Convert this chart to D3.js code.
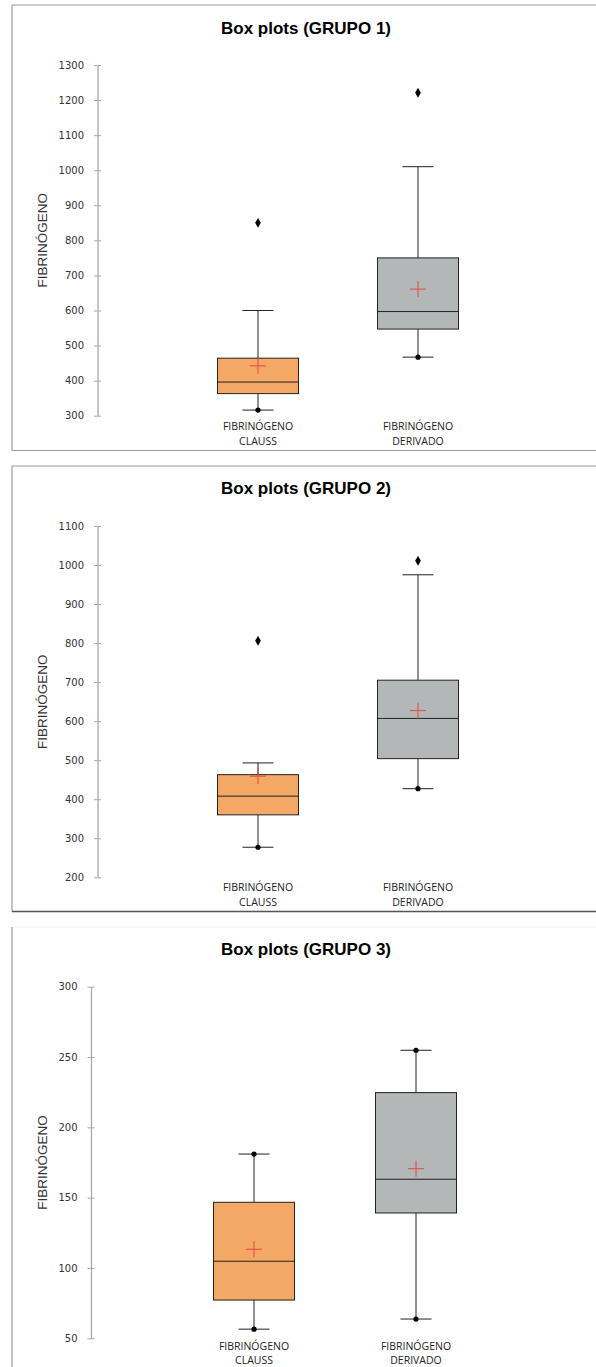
<!DOCTYPE html>
<html>
<head>
<meta charset="utf-8">
<script src="https://cdn.jsdelivr.net/npm/d3@7"></script>
<style>
  body { margin: 0; background: #fff; }
</style>
</head>
<body>
<div id="chart"></div>
<script>
// Categories and tick labels
const categories = ["FIBRINÓGENO CLAUSS", "FIBRINÓGENO DERIVADO"];
const categoryLines = [["FIBRINÓGENO", "CLAUSS"], ["FIBRINÓGENO", "DERIVADO"]];
const titles = ["Box plots (GRUPO 1)", "Box plots (GRUPO 2)", "Box plots (GRUPO 3)"];
const yLabel = "FIBRINÓGENO";

// GRUPO 1
const g1Low = [316, 467];
const g1Q1 = [363, 547];
const g1Median = [396, 597];
const g1Q3 = [464, 750];
const g1High = [600, 1010];
const g1Mean = [442, 661];
const g1Outliers = [[850], [1221]];
const g1Ticks = [300, 400, 500, 600, 700, 800, 900, 1000, 1100, 1200, 1300];

// GRUPO 2
const g2Low = [277, 427];
const g2Q1 = [360, 504];
const g2Median = [408, 607];
const g2Q3 = [463, 705];
const g2High = [493, 975];
const g2Mean = [459, 627];
const g2Outliers = [[806], [1011]];
const g2Ticks = [200, 300, 400, 500, 600, 700, 800, 900, 1000, 1100];

// GRUPO 3
const g3Low = [56.5, 63.7];
const g3Q1 = [77.2, 139.1];
const g3Median = [104.8, 163.1];
const g3Q3 = [146.7, 224.7];
const g3High = [181, 254.8];
const g3Mean = [113.3, 170.6];
const g3Outliers = [[], []];
const g3Ticks = [50, 100, 150, 200, 250, 300];

const fills = ["#F3A866", "#B4B7B7"];

const width = 596;
const height = 1367;

// panel layout
const panels = [
  {title: titles[0], low: g1Low, q1: g1Q1, median: g1Median, q3: g1Q3, high: g1High, mean: g1Mean, outliers: g1Outliers, ticks: g1Ticks,
   top: 5, bottom: 450.5, left: 12, titleY: 34, axisX: 97.5, yTop: 65, yBottom: 415.7, xRange: [258, 418], labelX: 47, catY: 430, catGap: 15},
  {title: titles[1], low: g2Low, q1: g2Q1, median: g2Median, q3: g2Q3, high: g2High, mean: g2Mean, outliers: g2Outliers, ticks: g2Ticks,
   top: 466, bottom: 911.5, left: 12, titleY: 494, axisX: 97.5, yTop: 526, yBottom: 877.3, xRange: [258, 418], labelX: 47, catY: 891, catGap: 15},
  {title: titles[2], low: g3Low, q1: g3Q1, median: g3Median, q3: g3Q3, high: g3High, mean: g3Mean, outliers: g3Outliers, ticks: g3Ticks,
   top: 927, bottom: null, left: 12, titleY: 955, axisX: 91, yTop: 986.7, yBottom: 1338.3, xRange: [254, 416], labelX: 47, catY: 1350, catGap: 13.5}
];

const svg = d3.select("#chart")
  .append("svg")
    .attr("width", width)
    .attr("height", height)
    .attr("viewBox", [0, 0, width, height]);

const boxW = 81;
const capW = 31;

panels.forEach(p => {
  const g = svg.append("g");

  // frame
  g.append("line").attr("x1", p.left).attr("x2", width + 5).attr("y1", p.top).attr("y2", p.top)
    .attr("stroke", p.bottom === null ? "#eeeeee" : "#9a9a9a").attr("stroke-width", 1.2);
  g.append("line").attr("x1", p.left).attr("x2", p.left).attr("y1", p.top).attr("y2", p.bottom === null ? height + 5 : p.bottom)
    .attr("stroke", "#9a9a9a").attr("stroke-width", 1.2);
  if (p.bottom !== null) {
    g.append("line").attr("x1", p.left).attr("x2", width + 5).attr("y1", p.bottom).attr("y2", p.bottom)
      .attr("stroke", p.top > 400 ? "#555" : "#9a9a9a").attr("stroke-width", p.top > 400 ? 1.6 : 1.2);
  }

  // title
  g.append("text")
    .attr("x", 306).attr("y", p.titleY)
    .attr("text-anchor", "middle")
    .attr("font-family", "Liberation Sans, Arial, sans-serif")
    .attr("font-weight", "bold")
    .attr("font-size", 17)
    .attr("fill", "#000")
    .text(p.title);

  const y = d3.scaleLinear()
    .domain([d3.min(p.ticks), d3.max(p.ticks)])
    .range([p.yBottom, p.yTop]);

  const x = d3.scalePoint()
    .domain(categories)
    .range(p.xRange);

  // y axis
  g.append("g")
    .attr("transform", `translate(${p.axisX},0)`)
    .call(d3.axisLeft(y).tickValues(p.ticks).tickFormat(d3.format("d")).tickSize(3.5).tickPadding(10).tickSizeOuter(0))
    .call(a => a.select(".domain").attr("stroke", "#a8a8a8").attr("stroke-width", 1.3))
    .call(a => a.selectAll(".tick line").clone().attr("x2", 3.5))
    .call(a => a.selectAll(".tick line").attr("stroke", "#a8a8a8"))
    .call(a => a.selectAll(".tick text")
      .attr("font-family", "DejaVu Sans, Verdana, sans-serif")
      .attr("font-size", 10)
      .attr("fill", "#333"));

  // y label
  g.append("text")
    .attr("transform", `translate(${p.labelX},${(p.yTop + p.yBottom) / 2}) rotate(-90)`)
    .attr("text-anchor", "middle")
    .attr("font-family", "Liberation Sans, Arial, sans-serif")
    .attr("font-size", 13.5)
    .attr("fill", "#333")
    .text(yLabel);

  // category labels
  categories.forEach((c, i) => {
    g.append("text")
      .attr("x", x(c)).attr("y", p.catY)
      .attr("text-anchor", "middle")
      .attr("font-family", "Open Sans, sans-serif")
      .attr("font-size", 10.5)
      .attr("fill", "#222")
      .selectAll("tspan")
      .data(categoryLines[i])
      .join("tspan")
        .attr("x", x(c))
        .attr("dy", (d, j) => j === 0 ? 0 : p.catGap)
        .text(d => d);
  });

  // boxes
  categories.forEach((c, i) => {
    const cx = x(c);
    const b = g.append("g").attr("stroke", "#222").attr("stroke-width", 1);
    // whiskers
    b.append("line").attr("x1", cx).attr("x2", cx).attr("y1", y(p.q3[i])).attr("y2", y(p.high[i]));
    b.append("line").attr("x1", cx).attr("x2", cx).attr("y1", y(p.q1[i])).attr("y2", y(p.low[i]));
    b.append("line").attr("x1", cx - capW / 2).attr("x2", cx + capW / 2).attr("y1", y(p.high[i])).attr("y2", y(p.high[i]));
    b.append("line").attr("x1", cx - capW / 2).attr("x2", cx + capW / 2).attr("y1", y(p.low[i])).attr("y2", y(p.low[i]));
    // box
    b.append("rect")
      .attr("x", cx - boxW / 2).attr("width", boxW)
      .attr("y", y(p.q3[i])).attr("height", y(p.q1[i]) - y(p.q3[i]))
      .attr("fill", fills[i]);
    b.append("line").attr("x1", cx - boxW / 2).attr("x2", cx + boxW / 2).attr("y1", y(p.median[i])).attr("y2", y(p.median[i]));

    // mean marker
    const my = y(p.mean[i]);
    g.append("path")
      .attr("d", `M${cx - 8},${my}H${cx + 8}M${cx},${my - 8}V${my + 8}`)
      .attr("stroke", "#E8463E").attr("stroke-width", 1);

    // min point
    g.append("circle").attr("cx", cx).attr("cy", y(p.low[i])).attr("r", 2.6).attr("fill", "#000");
    // max point (on whisker end when there are no outliers)
    if (p.outliers[i].length === 0) {
      g.append("circle").attr("cx", cx).attr("cy", y(p.high[i])).attr("r", 2.6).attr("fill", "#000");
    }
    // outliers
    g.selectAll(null)
      .data(p.outliers[i])
      .join("path")
        .attr("transform", d => `translate(${cx},${y(d)})`)
        .attr("d", d3.symbol(d3.symbolDiamond, 28))
        .attr("fill", "#000");
  });
});
</script>
</body>
</html>
